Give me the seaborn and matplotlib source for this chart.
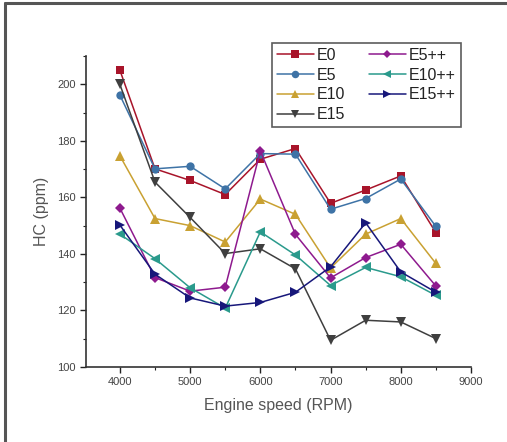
import numpy as np
import pandas as pd
import matplotlib
matplotlib.use("Agg")
import matplotlib.pyplot as plt
import seaborn as sns
from matplotlib.ticker import MultipleLocator
from matplotlib.lines import Line2D


rpm = [4000, 4500, 5000, 5500, 6000, 6500, 7000, 7500, 8000, 8500]

hc_E0 = [205.0, 170.1, 166.0, 161.0, 173.5, 177.3, 157.9, 162.6, 167.6, 147.5]
hc_E5 = [196.2, 170.1, 171.0, 163.0, 175.5, 175.3, 155.8, 159.6, 166.5, 149.7]
hc_E10 = [174.7, 152.5, 150.0, 144.2, 159.4, 154.0, 135.0, 147.0, 152.5, 136.6]
hc_E15 = [200.0, 165.4, 152.9, 140.1, 141.8, 134.7, 109.4, 116.5, 115.9, 110.0]
hc_E5pp = [156.2, 131.6, 126.8, 128.2, 176.4, 146.9, 131.5, 138.7, 143.4, 128.6]
hc_E10pp = [147.0, 138.3, 128.0, 120.8, 147.8, 139.6, 128.8, 135.2, 131.9, 125.3]
hc_E15pp = [150.2, 132.8, 124.4, 121.5, 122.8, 126.4, 135.4, 151.0, 133.6, 126.4]

fuels = ["E0", "E5", "E10", "E15", "E5++", "E10++", "E15++"]
series = [hc_E0, hc_E5, hc_E10, hc_E15, hc_E5pp, hc_E10pp, hc_E15pp]

colors = ["#A8142A", "#3E73A6", "#C9A132", "#3F3F3F", "#8E1A8E", "#2A9A8C", "#17177A"]
markers = ["s", "o", "^", "v", "D", "<", ">"]
msizes = [6, 6, 7, 7, 5, 7, 7]

df = pd.DataFrame({
    "rpm": np.tile(rpm, len(fuels)),
    "hc": np.concatenate(series),
    "fuel": np.repeat(fuels, len(rpm)),
})

sns.set_style("ticks")
plt.rcParams["font.family"] = ["Liberation Sans", "DejaVu Sans"]

fig = plt.figure(figsize=(5.07, 4.42), dpi=100)
ax = fig.add_axes([0.170, 0.170, 0.759, 0.703])

for fuel, col, mk, ms in zip(fuels, colors, markers, msizes):
    sns.lineplot(data=df[df.fuel == fuel], x="rpm", y="hc", ax=ax, color=col,
                 marker=mk, markersize=ms, markeredgewidth=0, linewidth=1.1,
                 legend=False, errorbar=None)

ax.set_xlim(3520, 9000)
ax.set_ylim(100, 210)
ax.xaxis.set_major_locator(MultipleLocator(1000))
ax.xaxis.set_minor_locator(MultipleLocator(500))
ax.yaxis.set_major_locator(MultipleLocator(20))
ax.yaxis.set_minor_locator(MultipleLocator(10))
ax.tick_params(which="major", direction="out", length=4, width=1, labelsize=8, colors="#222222", labelcolor="#444444")
ax.tick_params(which="minor", direction="out", length=2.5, width=0.8, colors="#222222")
sns.despine(ax=ax)
for s in ["left", "bottom"]:
    ax.spines[s].set_color("#333333")
    ax.spines[s].set_linewidth(1.2)

ax.set_xlabel("Engine speed (RPM)", fontsize=11.5, color="#555555", labelpad=8)
ax.set_ylabel("HC (ppm)", fontsize=11.5, color="#555555", labelpad=6)

handles = [Line2D([0], [0], color=c, marker=m, markersize=s * 0.9, markeredgewidth=0, linewidth=1.1)
           for c, m, s in zip(colors, markers, msizes)]
leg = ax.legend(handles, fuels, ncol=2, loc="upper left", bbox_to_anchor=(0.483, 1.042),
                frameon=True, fancybox=False, fontsize=11.5, handlelength=2.3,
                handletextpad=0.2, columnspacing=1.5, labelspacing=0.3,
                borderpad=0.3, borderaxespad=0)
leg.get_frame().set_edgecolor("#333333")
leg.get_frame().set_linewidth(1.2)
for t in leg.get_texts():
    t.set_color("#222222")

# outer frame (left and top edges only, as in the scan)
fig.add_artist(Line2D([0.010, 0.010], [0.0, 0.993], transform=fig.transFigure, color="#555555", linewidth=2.2))
fig.add_artist(Line2D([0.010, 1.0], [0.993, 0.993], transform=fig.transFigure, color="#555555", linewidth=2.2))

fig.savefig("out.png", dpi=100)
